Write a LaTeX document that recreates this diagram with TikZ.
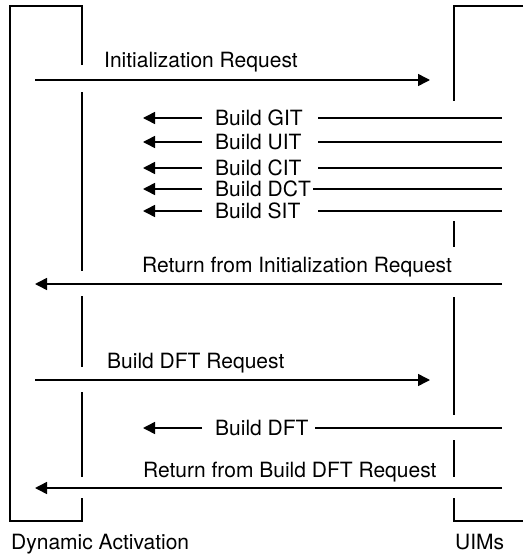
\documentclass[tikz,border=0pt]{standalone}
\usepackage{fontspec}
\setmainfont{TeX Gyre Heros}
\usetikzlibrary{arrows.meta}
\begin{document}
\begin{tikzpicture}[x=1pt,y=-1pt,
  ln/.style={line width=1.5pt,black},
  arr/.style={ln,-{Triangle[length=12pt,width=12pt]}},
  lbl/.style={anchor=base west,inner sep=0pt,font=\fontsize{21}{25}\selectfont}]
\useasboundingbox (0,0) rectangle (523,554);
% left box
\coordinate (LTo) at (10,6); \coordinate (LTi) at (82,6);
\coordinate (LBo) at (10,521); \coordinate (LBi) at (82,521);
\draw[ln] (LTi |- 0,65) -- (LTi) -- (LTo) -- (LBo) -- (LBi) -- (82,498);
\draw[ln] (82,92) -- (82,271);
\draw[ln] (82,296) -- (82,367);
\draw[ln] (82,392) -- (82,477);
% right box
\coordinate (RT) at (454,6); \coordinate (RB) at (454,521);
\draw[ln] (523,6) -- (RT) -- (454,101);
\draw[ln] (454,221) -- (454,247);
\draw[ln] (454,297) -- (454,415);
\draw[ln] (454,440) -- (454,477);
\draw[ln] (454,498) -- (RB) -- (523,521);
% Initialization Request
\node[lbl] (t1) at (104,67) {Initialization Request};
\coordinate (a1s) at (35,80); \coordinate (a1e) at (430,80);
\draw[arr] (a1s) -- (a1e);
% Build rows
\foreach \n/\y/\t/\xs in {g/118/Build GIT/318, u/142/Build UIT/318, c/168/Build CIT/318, d/189/Build DCT/313, s/211/Build SIT/318}{
  \node[lbl] (t\n) at (215,\y+7.5) {\t};
  \coordinate (\n a) at (202,\y); \coordinate (\n b) at (143,\y);
  \coordinate (\n c) at (\xs,\y); \coordinate (\n d) at (502,\y);
  \draw[arr] (\n a) -- (\n b);
  \draw[ln] (\n c) -- (\n d);
}
% Return from Initialization Request
\node[lbl] (t2) at (142,272) {Return from Initialization Request};
\coordinate (a2s) at (502,284); \coordinate (a2e) at (35,284);
\draw[arr] (a2s) -- (a2e);
% Build DFT Request
\node[lbl] (t3) at (107,368) {Build DFT Request};
\coordinate (a3s) at (35,380); \coordinate (a3e) at (430,380);
\draw[arr] (a3s) -- (a3e);
% Build DFT
\node[lbl] (t4) at (215,435.5) {Build DFT};
\coordinate (fa) at (202,428); \coordinate (fb) at (143,428);
\coordinate (fc) at (315,428); \coordinate (fd) at (502,428);
\draw[arr] (fa) -- (fb);
\draw[ln] (fc) -- (fd);
% Return from Build DFT Request
\node[lbl] (t5) at (143,477) {Return from Build DFT Request};
\coordinate (a5s) at (502,488); \coordinate (a5e) at (35,488);
\draw[arr] (a5s) -- (a5e);
% labels
\node[lbl] (da) at (11,549) {Dynamic Activation};
\node[lbl] (ui) at (455,549) {UIMs};
\end{tikzpicture}
\end{document}
